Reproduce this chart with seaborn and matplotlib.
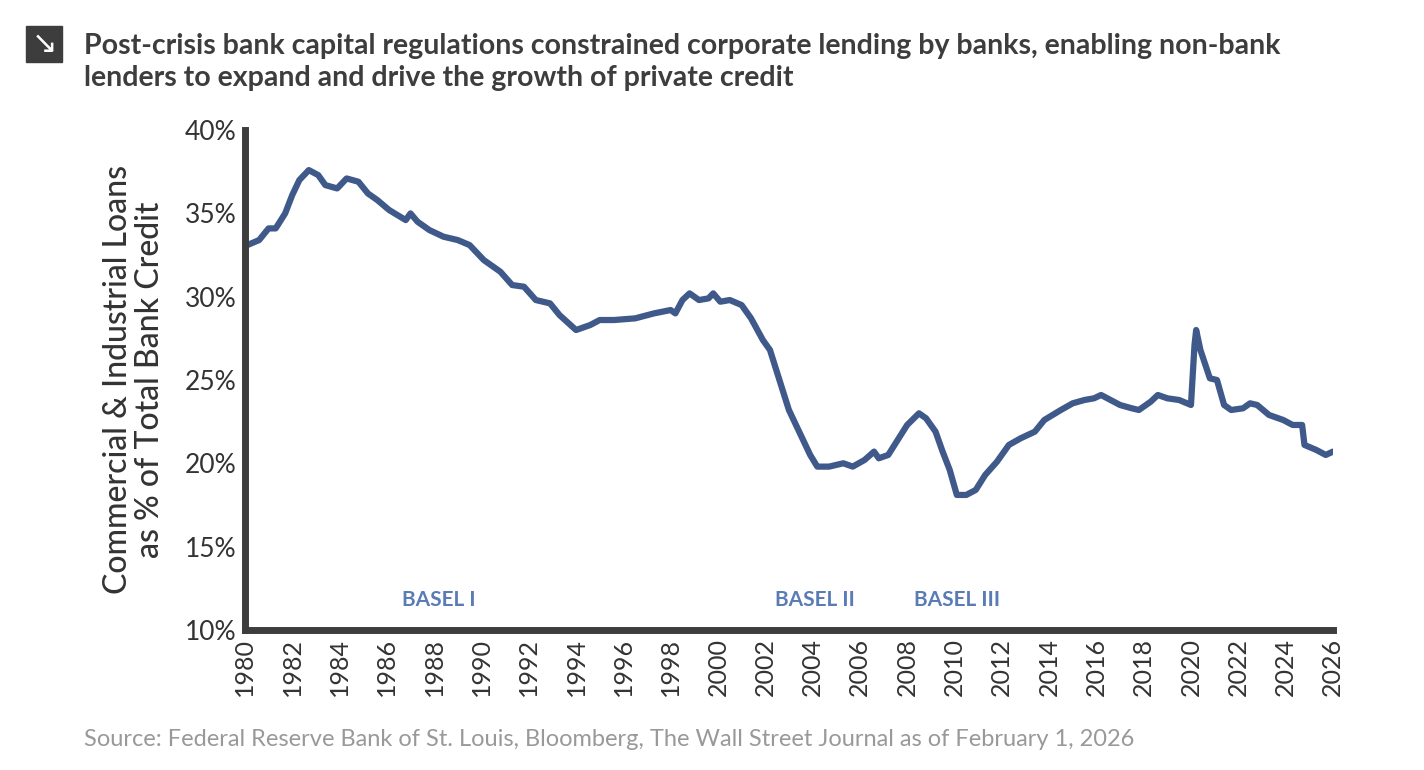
import matplotlib
matplotlib.use("Agg")
import matplotlib.pyplot as plt
import seaborn as sns
import pandas as pd
from matplotlib.patches import Rectangle

years = [1980.1,1980.6,1981.0,1981.3,1981.7,1982.0,1982.3,1982.7,1983.1,1983.4,1983.9,1984.3,1984.8,1985.2,1985.6,1986.1,1986.8,1987.0,1987.3,1987.8,1988.4,1989.0,1989.5,1990.1,1990.8,1991.3,1991.8,1992.3,1992.9,1993.3,1994.0,1994.6,1995.0,1995.6,1996.5,1997.3,1998.0,1998.2,1998.5,1998.8,1999.2,1999.6,1999.8,2000.1,2000.5,2001.0,2001.4,2001.9,2002.2,2002.6,2003.0,2003.5,2003.9,2004.2,2004.7,2005.3,2005.7,2006.2,2006.6,2006.8,2007.2,2007.6,2008.0,2008.5,2008.8,2009.2,2009.5,2009.8,2010.1,2010.5,2010.9,2011.3,2011.8,2012.3,2012.8,2013.4,2013.8,2014.5,2015.0,2015.5,2015.9,2016.2,2016.6,2017.0,2017.5,2017.8,2018.3,2018.6,2019.0,2019.5,2020.0,2020.15,2020.22,2020.4,2020.8,2021.1,2021.4,2021.7,2022.2,2022.5,2022.8,2023.3,2023.9,2024.3,2024.7,2024.8,2025.3,2025.7,2026.0]
share = [33.1,33.4,34.1,34.1,35.0,36.1,37.0,37.6,37.3,36.7,36.5,37.1,36.9,36.2,35.8,35.2,34.6,35.0,34.5,34.0,33.6,33.4,33.1,32.2,31.5,30.7,30.6,29.8,29.6,28.9,28.0,28.3,28.6,28.6,28.7,29.0,29.2,29.0,29.8,30.2,29.8,29.9,30.2,29.7,29.8,29.5,28.7,27.4,26.8,25.0,23.2,21.7,20.5,19.8,19.8,20.0,19.8,20.2,20.7,20.3,20.5,21.4,22.3,23.0,22.7,21.9,20.7,19.6,18.1,18.1,18.4,19.3,20.1,21.1,21.5,21.9,22.6,23.2,23.6,23.8,23.9,24.1,23.8,23.5,23.3,23.2,23.7,24.1,23.9,23.8,23.5,27.1,28.0,26.8,25.1,25.0,23.5,23.2,23.3,23.6,23.5,22.9,22.6,22.3,22.3,21.1,20.8,20.5,20.7]
basel_labels = ["BASEL I", "BASEL II", "BASEL III"]
basel_x = [1988.2, 2004.1, 2010.1]
xticks = list(range(1980, 2027, 2))
yticks = [10, 15, 20, 25, 30, 35, 40]

sns.set_theme(style="white")
plt.rcParams['font.family'] = ['Lato', 'DejaVu Sans']

fig = plt.figure(figsize=(14.24, 7.7), dpi=100)
ax = fig.add_axes([0.172, 0.182, 0.764, 0.649])
df = pd.DataFrame({"year": years, "share": share})
sns.lineplot(data=df, x="year", y="share", ax=ax, color="#3f5a8a", linewidth=4.5)

ax.set_xlim(1980, 2026)
ax.set_ylim(10, 40)
ax.set_xticks(xticks)
ax.set_xticklabels([str(x) for x in xticks], rotation=90, fontsize=18, color="#333333")
ax.set_yticks(yticks)
ax.set_yticklabels([f"{y}%" for y in yticks], fontsize=19, color="#333333")
ax.set_xlabel("")
ax.set_ylabel("Commercial & Industrial Loans\nas % of Total Bank Credit", fontsize=23, color="#333333",
              labelpad=14, fontweight="medium", linespacing=1.1)
for s in ["top", "right"]:
    ax.spines[s].set_visible(False)
for s in ["left", "bottom"]:
    ax.spines[s].set_linewidth(5)
    ax.spines[s].set_color("#3d3d3d")
ax.tick_params(axis="both", length=0, pad=6)

for lab, x in zip(basel_labels, basel_x):
    ax.text(x, 11.8, lab, ha="center", va="center", fontsize=15, color="#5a7bb5", fontweight="bold")

fig.patches.append(Rectangle((26/1424, 1-62/770), 36/1424, 36/770, transform=fig.transFigure, color="#3d3d3d"))
fig.text(44/1424, 1-44/770, "↘", ha="center", va="center", color="white", fontsize=22, family="DejaVu Sans")
fig.text(84/1424, 1-62/770, "Post-crisis bank capital regulations constrained corporate lending by banks, enabling non-bank\nlenders to expand and drive the growth of private credit",
         ha="left", va="center", fontsize=20.5, fontweight="bold", color="#3d3d3d", linespacing=1.3)
fig.text(84/1424, 1-740/770, "Source: Federal Reserve Bank of St. Louis, Bloomberg, The Wall Street Journal as of February 1, 2026",
         ha="left", va="center", fontsize=17, color="#999999")

fig.savefig("out.png", dpi=100)
